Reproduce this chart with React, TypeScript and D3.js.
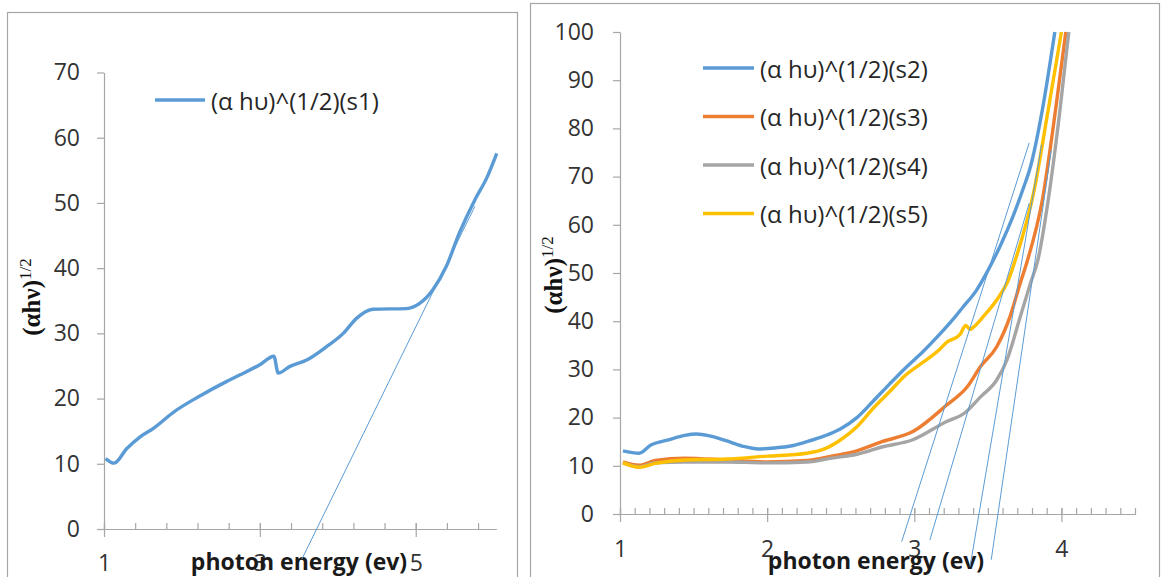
import React, { useEffect, useRef } from 'react';
import * as d3 from 'd3';

const W = 1164;
const H = 577;

// ---- left chart: sample s1 ----
const s1X = [1.02, 1.13, 1.29, 1.46, 1.63, 1.89, 2.23, 2.57, 2.74, 3.0, 3.18, 3.235, 3.38, 3.6, 3.86, 4.07, 4.24, 4.45, 4.88, 5.05, 5.22, 5.39, 5.56, 5.76, 5.91, 6.04];
const s1Y = [10.8, 10.1, 12.3, 14.1, 15.4, 17.9, 20.4, 22.6, 23.6, 25.2, 26.5, 23.9, 24.9, 25.9, 28.0, 30.0, 32.3, 33.7, 33.8, 34.6, 36.7, 40.2, 45.4, 50.5, 53.8, 57.6];
const s1Tangent: [number, number][] = [[3.54, -4.6], [5.76, 49.5]];

// ---- right chart: samples s2..s5 ----
const s2X = [1.02, 1.13, 1.21, 1.33, 1.44, 1.52, 1.61, 1.72, 1.83, 1.94, 2.05, 2.16, 2.27, 2.39, 2.5, 2.61, 2.72, 2.83, 2.94, 3.06, 3.17, 3.28, 3.33, 3.42, 3.5, 3.59, 3.67, 3.74, 3.79, 3.87, 3.955];
const s2Y = [13.1, 12.6, 14.3, 15.4, 16.3, 16.6, 16.2, 15.2, 14.1, 13.5, 13.7, 14.1, 15.0, 16.2, 17.7, 20.0, 23.4, 26.9, 30.3, 33.7, 37.2, 41.0, 42.9, 46.3, 50.5, 56.0, 61.7, 67.5, 72.1, 83.8, 100];

const s3X = [1.02, 1.13, 1.24, 1.44, 1.72, 2.0, 2.27, 2.44, 2.61, 2.78, 2.99, 3.22, 3.36, 3.45, 3.56, 3.65, 3.72, 3.77, 3.87, 3.96, 4.03];
const s3Y = [10.8, 10.1, 11.1, 11.6, 11.2, 10.8, 11.1, 12.0, 13.1, 15.0, 17.1, 22.6, 26.4, 30.6, 34.7, 40.9, 47.9, 52.7, 65.1, 83.8, 100];

const s4X = [1.02, 1.13, 1.24, 1.44, 1.72, 2.0, 2.27, 2.44, 2.61, 2.78, 2.99, 3.22, 3.34, 3.45, 3.56, 3.63, 3.72, 3.79, 3.84, 3.91, 3.99, 4.05];
const s4Y = [10.6, 9.8, 10.6, 10.8, 10.8, 10.6, 10.8, 11.6, 12.4, 13.9, 15.4, 19.2, 20.9, 24.3, 27.8, 32.0, 40.9, 47.9, 52.7, 65.1, 83.8, 100];

const s5X = [1.02, 1.13, 1.24, 1.44, 1.72, 2.0, 2.27, 2.39, 2.5, 2.61, 2.72, 2.83, 2.94, 3.06, 3.17, 3.22, 3.31, 3.35, 3.38, 3.4, 3.47, 3.56, 3.64, 3.69, 3.81, 3.91, 4.0];
const s5Y = [10.6, 9.7, 10.5, 11.2, 11.4, 12.0, 12.6, 13.5, 15.4, 18.1, 21.9, 25.3, 28.8, 31.5, 34.1, 35.6, 37.2, 39.1, 38.3, 38.7, 41.0, 44.4, 48.6, 53.0, 66.5, 83.8, 100];

// hand drawn extrapolation lines (start, end)
const rightTangents: [number, number][][] = [
  [[2.914, -5.75], [3.781, 77.0]],
  [[3.106, -5.4], [3.781, 64.5]],
  [[3.379, -10.9], [3.865, 76.6]],
  [[3.523, -9.5], [3.931, 75.5]],
];

const leftNames = ['(α hυ)^(1/2)(s1)'];
const rightNames = ['(α hυ)^(1/2)(s2)', '(α hυ)^(1/2)(s3)', '(α hυ)^(1/2)(s4)', '(α hυ)^(1/2)(s5)'];

const leftYTicks = [0, 10, 20, 30, 40, 50, 60, 70];
const leftXMajor = [1, 3, 5];
const rightYTicks = [0, 10, 20, 30, 40, 50, 60, 70, 80, 90, 100];
const rightXMajor = [1, 2, 3, 4];

const BLUE = '#5b9bd5';
const ORANGE = '#ed7d31';
const GRAY = '#a5a5a5';
const YELLOW = '#ffc000';
const AXIS = '#a6a6a6';
const FONT = "'Open Sans', sans-serif";

const zip = (xs: number[], ys: number[]) => xs.map((v, i) => [v, ys[i]] as [number, number]);

function drawPanel(svg: any, p: any) {
  const g = svg.append('g');

  g.append('rect')
    .attr('x', p.frame[0]).attr('y', p.frame[1])
    .attr('width', p.frame[2]).attr('height', p.frame[3])
    .attr('fill', '#fff').attr('stroke', AXIS).attr('stroke-width', 1.2);

  const x = d3.scaleLinear().domain(p.xDomain).range(p.xRange);
  const y = d3.scaleLinear().domain(p.yDomain).range(p.yRange);
  const x0 = p.xRange[0];
  const y0 = p.yRange[0];

  // y axis
  g.append('g')
    .attr('transform', `translate(${x0},0)`)
    .call(d3.axisLeft(y).tickValues(p.yTicks).tickSize(7).tickSizeOuter(0).tickPadding(p.yPad).tickFormat(d3.format('d')));

  // x axis: minor ticks inside, major ticks cross
  g.append('g')
    .attr('transform', `translate(0,${y0})`)
    .call(d3.axisTop(x).tickValues(p.xMinor).tickSize(6).tickSizeOuter(0).tickFormat(() => ''));
  g.append('g')
    .attr('transform', `translate(0,${y0})`)
    .call(d3.axisTop(x).tickValues(p.xMajor).tickSize(6).tickSizeOuter(0).tickFormat(() => ''));
  g.append('g')
    .attr('transform', `translate(0,${y0})`)
    .call(d3.axisBottom(x).tickValues(p.xMajor).tickSize(8).tickSizeOuter(0).tickPadding(p.xPad).tickFormat(d3.format('d')));

  g.selectAll('.domain').attr('stroke', AXIS).attr('stroke-width', 1.2);
  g.selectAll('.tick line').attr('stroke', AXIS).attr('stroke-width', 1.2);
  g.selectAll('.tick text')
    .attr('font-family', FONT).attr('font-size', 23).attr('fill', '#333');

  // x title
  g.append('text')
    .attr('x', p.xTitle[0]).attr('y', p.xTitle[1])
    .attr('text-anchor', 'middle').attr('dominant-baseline', 'central')
    .attr('font-family', FONT).attr('font-weight', 'bold').attr('font-size', 23)
    .attr('fill', '#1a1a1a')
    .text('photon energy (ev)');

  // y title
  const yt = g.append('text')
    .attr('transform', `translate(${p.yTitle[0]},${p.yTitle[1]}) rotate(-90)`)
    .attr('text-anchor', 'middle')
    .attr('font-family', "'Liberation Serif', serif")
    .attr('fill', '#111');
  yt.append('tspan').attr('font-weight', 'bold').attr('font-size', 25).text('(αhν)');
  yt.append('tspan').attr('font-size', 17).attr('dy', -9).text('1/2');

  // series
  const line = d3.line<[number, number]>()
    .x(d => x(d[0]))
    .y(d => y(d[1]))
    .curve(d3.curveMonotoneX);

  p.series.forEach((s: any) => {
    g.append('path')
      .datum(s.data)
      .attr('fill', 'none')
      .attr('stroke', s.color)
      .attr('stroke-width', 3.4)
      .attr('stroke-linejoin', 'round')
      .attr('d', line);
  });

  // extrapolation lines
  p.tangents.forEach((t: [number, number][]) => {
    g.append('line')
      .attr('x1', x(t[0][0])).attr('y1', y(t[0][1]))
      .attr('x2', x(t[1][0])).attr('y2', y(t[1][1]))
      .attr('stroke', BLUE).attr('stroke-width', 1);
  });

  // legend
  p.series.forEach((s: any, i: number) => {
    const ly = p.legend.y + i * p.legend.step;
    g.append('line')
      .attr('x1', p.legend.x).attr('x2', p.legend.x + p.legend.len)
      .attr('y1', ly).attr('y2', ly)
      .attr('stroke', s.color).attr('stroke-width', 3.4);
    g.append('text')
      .attr('x', p.legend.x + p.legend.len + 6).attr('y', ly)
      .attr('dominant-baseline', 'central')
      .attr('font-family', FONT).attr('font-size', 24).attr('fill', '#262626')
      .text(s.name);
  });
}

export default function App() {
  const ref = useRef<SVGSVGElement>(null);

  useEffect(() => {
    if (!ref.current) return;
    const svg = d3.select(ref.current);
    svg.selectAll('*').remove();
    svg.append('rect').attr('width', W).attr('height', H).attr('fill', '#fff');

    drawPanel(svg, {
      frame: [7.5, 12.5, 510, 600],
      xDomain: [1, 6.03],
      xRange: [104, 496],
      yDomain: [0, 70],
      yRange: [529, 72.5],
      yTicks: leftYTicks,
      xMajor: leftXMajor,
      xMinor: d3.range(1, 6.0, 0.4),
      yPad: 17,
      xPad: 18,
      xTitle: [299, 561],
      yTitle: [40, 297],
      series: [{ name: leftNames[0], color: BLUE, data: zip(s1X, s1Y) }],
      tangents: [s1Tangent],
      legend: { x: 155, y: 100, step: 0, len: 50 },
    });

    drawPanel(svg, {
      frame: [530.5, 3.5, 629, 620],
      xDomain: [1, 4.5],
      xRange: [620, 1135],
      yDomain: [0, 100],
      yRange: [514, 32],
      yTicks: rightYTicks,
      xMajor: rightXMajor,
      xMinor: d3.range(1, 4.501, 0.1),
      yPad: 19,
      xPad: 19,
      xTitle: [876, 560],
      yTitle: [562, 275],
      series: [
        { name: rightNames[0], color: BLUE, data: zip(s2X, s2Y) },
        { name: rightNames[1], color: ORANGE, data: zip(s3X, s3Y) },
        { name: rightNames[2], color: GRAY, data: zip(s4X, s4Y) },
        { name: rightNames[3], color: YELLOW, data: zip(s5X, s5Y) },
      ],
      tangents: rightTangents,
      legend: { x: 703, y: 68, step: 48.5, len: 51 },
    });
  }, []);

  return (
    <div style={{ position: 'absolute', left: 0, top: 0 }}>
      <svg ref={ref} width={W} height={H} style={{ display: 'block' }} />
    </div>
  );
}
